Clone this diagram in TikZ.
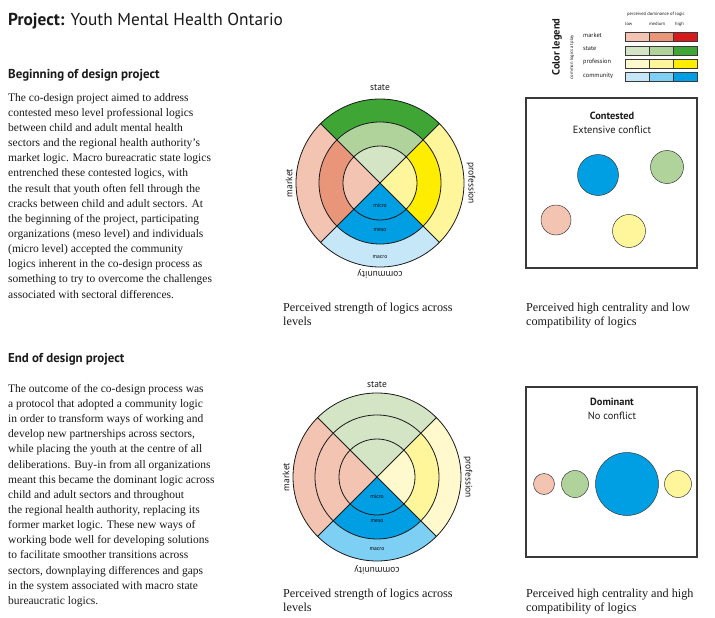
\documentclass[tikz,border=0pt]{standalone}
\usepackage{fontspec}
\setmainfont{Liberation Serif}
\newfontfamily\hsans{PT Sans}
\definecolor{mkL}{HTML}{F2C4B1}
\definecolor{mkM}{HTML}{E8957A}
\definecolor{mkH}{HTML}{D7191C}
\definecolor{stL}{HTML}{D4E5C6}
\definecolor{stM}{HTML}{B0D39B}
\definecolor{stH}{HTML}{3FA535}
\definecolor{prL}{HTML}{FFF9CD}
\definecolor{prM}{HTML}{FFF59B}
\definecolor{prH}{HTML}{FFED00}
\definecolor{cmL}{HTML}{C5E7F8}
\definecolor{cmM}{HTML}{7DCFF4}
\definecolor{cmH}{HTML}{009FE3}
\definecolor{ink}{HTML}{1A1A1A}
\definecolor{edge}{HTML}{3A3A3A}
\begin{document}
\begin{tikzpicture}[x=1pt,y=-1pt,
  body/.style={anchor=north west,inner sep=0pt,align=left,font=\fontsize{11.5}{15.15}\selectfont,text=ink},
  heading/.style={anchor=base west,inner sep=0pt,font=\hsans\bfseries\fontsize{12.9}{14}\selectfont,text=ink},
  caption/.style={anchor=north west,inner sep=0pt,align=left,font=\fontsize{12.2}{14.2}\selectfont,text=ink},
  wlabel/.style={inner sep=0pt,font=\hsans\fontsize{9.5}{10}\selectfont,text=ink},
  lvl/.style={inner sep=0pt,font=\hsans\fontsize{5.6}{6}\selectfont,text=black},
  ring/.style={draw=ink,line width=0.8pt},
  boxline/.style={draw=edge,line width=1.1pt},
  dot/.style={circle,draw=edge,line width=0.5pt,inner sep=0pt},
  swatch/.style={draw=edge,line width=0.5pt},
  leg/.style={anchor=west,inner sep=0pt,font=\hsans\fontsize{6.3}{7}\selectfont,text=ink},
  legs/.style={inner sep=0pt,font=\hsans\fontsize{4.6}{5}\selectfont,text=ink},
  boxtitle/.style={inner sep=0pt,font=\hsans\bfseries\fontsize{10.4}{11}\selectfont,text=ink},
  boxsub/.style={inner sep=0pt,font=\hsans\fontsize{10.4}{11}\selectfont,text=ink}]
\useasboundingbox[fill=white] (0,0) rectangle (715,618);

% title
\node[anchor=base west,inner sep=0pt,font=\hsans\fontsize{17.3}{18}\selectfont,text=ink] (title) at (8,26)
  {\textbf{Project:} Youth Mental Health Ontario};

% headings
\node[heading] (h1) at (8,78.5) {Beginning of design project};
\node[heading] (h2) at (8,362.5) {End of design project};

% body texts
\node[body] (t1) at (8,93) {The co-design project aimed to address\\
contested meso level professional logics\\
between child and adult mental health\\
sectors and the regional health authority's\\
market logic. Macro bureacratic state logics\\
entrenched these contested logics, with\\
the result that youth often fell through the\\
cracks between child and adult sectors. At\\
the beginning of the project, participating\\
organizations (meso level) and individuals\\
(micro level) accepted the community\\
logics inherent in the co-design process as\\
something to try to overcome the challenges\\
associated with sectoral differences.};

\node[body] (t2) at (8,384) {The outcome of the co-design process was\\
a protocol that adopted a community logic\\
in order to transform ways of working and\\
develop new partnerships across sectors,\\
while placing the youth at the centre of all\\
deliberations. Buy-in from all organizations\\
meant this became the dominant logic across\\
child and adult sectors and throughout\\
the regional health authority, replacing its\\
former market logic. These new ways of\\
working bode well for developing solutions\\
to facilitate smoother transitions across\\
sectors, downplaying differences and gaps\\
in the system associated with macro state\\
bureaucratic logics.};

% ---------- top wheel ----------
\begin{scope}[shift={(380,183)},y=1pt]
\foreach \a/\b/\ca/\cb/\cc in {45/135/stH/stM/stL,135/225/mkL/mkM/mkL,225/315/cmL/cmH/cmH,-45/45/prM/prH/prM}{
  \fill[\ca] (\a:61) arc[start angle=\a,end angle=\b,radius=61] -- (\b:84) arc[start angle=\b,end angle=\a,radius=84] -- cycle;
  \fill[\cb] (\a:37) arc[start angle=\a,end angle=\b,radius=37] -- (\b:61) arc[start angle=\b,end angle=\a,radius=61] -- cycle;
  \fill[\cc] (0,0) -- (\a:37) arc[start angle=\a,end angle=\b,radius=37] -- cycle;
}
\draw[ring] (0,0) circle[radius=37] (0,0) circle[radius=61] (0,0) circle[radius=84];
\draw[ring] (45:84) -- (225:84) (135:84) -- (315:84);
\node[wlabel] (as) at (0,95) {state};
\node[wlabel,rotate=90] (am) at (-91,0) {market};
\node[wlabel,rotate=-90] (ap) at (91,0) {profession};
\node[wlabel,rotate=180] (ac) at (0,-91) {community};
\node[lvl] (ami) at (0,-23) {micro};
\node[lvl] (ame) at (0,-47) {meso};
\node[lvl] (ama) at (0,-74) {macro};
\end{scope}

% ---------- bottom wheel ----------
\begin{scope}[shift={(377,477)},y=1pt]
\foreach \a/\b/\ca/\cb/\cc in {45/135/stL/stL/stL,135/225/mkL/mkL/mkL,225/315/cmM/cmH/cmH,-45/45/prL/prM/prL}{
  \fill[\ca] (\a:62) arc[start angle=\a,end angle=\b,radius=62] -- (\b:84) arc[start angle=\b,end angle=\a,radius=84] -- cycle;
  \fill[\cb] (\a:38) arc[start angle=\a,end angle=\b,radius=38] -- (\b:62) arc[start angle=\b,end angle=\a,radius=62] -- cycle;
  \fill[\cc] (0,0) -- (\a:38) arc[start angle=\a,end angle=\b,radius=38] -- cycle;
}
\draw[ring] (0,0) circle[radius=38] (0,0) circle[radius=62] (0,0) circle[radius=84];
\draw[ring] (45:84) -- (225:84) (135:84) -- (315:84);
\node[wlabel] (bs) at (0,92) {state};
\node[wlabel,rotate=90] (bm) at (-91,0) {market};
\node[wlabel,rotate=-90] (bp) at (91,0) {profession};
\node[wlabel,rotate=180] (bc) at (0,-93) {community};
\node[lvl] (bmi) at (0,-20) {micro};
\node[lvl] (bme) at (0,-44) {meso};
\node[lvl] (bma) at (0,-72) {macro};
\end{scope}

% captions
\node[caption] (c1) at (283,302.5) {Perceived strength of logics across\\levels};
\node[caption] (c2) at (526,302.5) {Perceived high centrality and low\\compatibility of logics};
\node[caption] (c3) at (283,588.5) {Perceived strength of logics across\\levels};
\node[caption] (c4) at (526,588.5) {Perceived high centrality and high\\compatibility of logics};

% ---------- top box ----------
\draw[boxline] (526,98) rectangle (697,268);
\node[boxtitle] (bx1t) at (612,116) {Contested};
\node[boxsub] (bx1s) at (612,129.5) {Extensive conflict};
\node[dot,fill=cmH,minimum size=41] (d1) at (598,175) {};
\node[dot,fill=stM,minimum size=33] (d2) at (667,167) {};
\node[dot,fill=mkL,minimum size=30] (d3) at (556,220) {};
\node[dot,fill=prM,minimum size=33] (d4) at (629,231) {};

% ---------- bottom box ----------
\draw[boxline] (526,387) rectangle (697,557);
\node[boxtitle] (bx2t) at (612,402) {Dominant};
\node[boxsub] (bx2s) at (612,416) {No conflict};
\node[dot,fill=mkL,minimum size=21] (e1) at (544,484) {};
\node[dot,fill=stM,minimum size=27] (e2) at (575,484) {};
\node[dot,fill=cmH,minimum size=63] (e3) at (627,484) {};
\node[dot,fill=prM,minimum size=27] (e4) at (678,484) {};

% ---------- legend ----------
\node[inner sep=0pt,rotate=90,font=\hsans\bfseries\fontsize{10.5}{11}\selectfont,text=ink] (lgt) at (557,47) {Color legend};
\node[legs,rotate=90] (lgs) at (572,57) {common logics at play};
\node[legs] (lgh) at (656,14) {perceived dominance of logic};
\node[legs,anchor=west] (lgl) at (625,24) {low};
\node[legs] (lgm) at (657,24) {medium};
\node[legs,anchor=west] (lghi) at (675,24) {high};
\foreach \n/\yy/\cl/\cm/\ch in {market/37/mkL/mkM/mkH,state/50.3/stL/stM/stH,profession/63.7/prL/prM/prH,community/77/cmL/cmM/cmH}{
  \node[leg] (lg-\n) at (583,\yy-1.5) {\n};
  \draw[swatch,fill=\cl] (625,\yy-4.5) rectangle (649,\yy+4.5);
  \draw[swatch,fill=\cm] (649,\yy-4.5) rectangle (673,\yy+4.5);
  \draw[swatch,fill=\ch] (673,\yy-4.5) rectangle (697,\yy+4.5);
}
\end{tikzpicture}
\end{document}
